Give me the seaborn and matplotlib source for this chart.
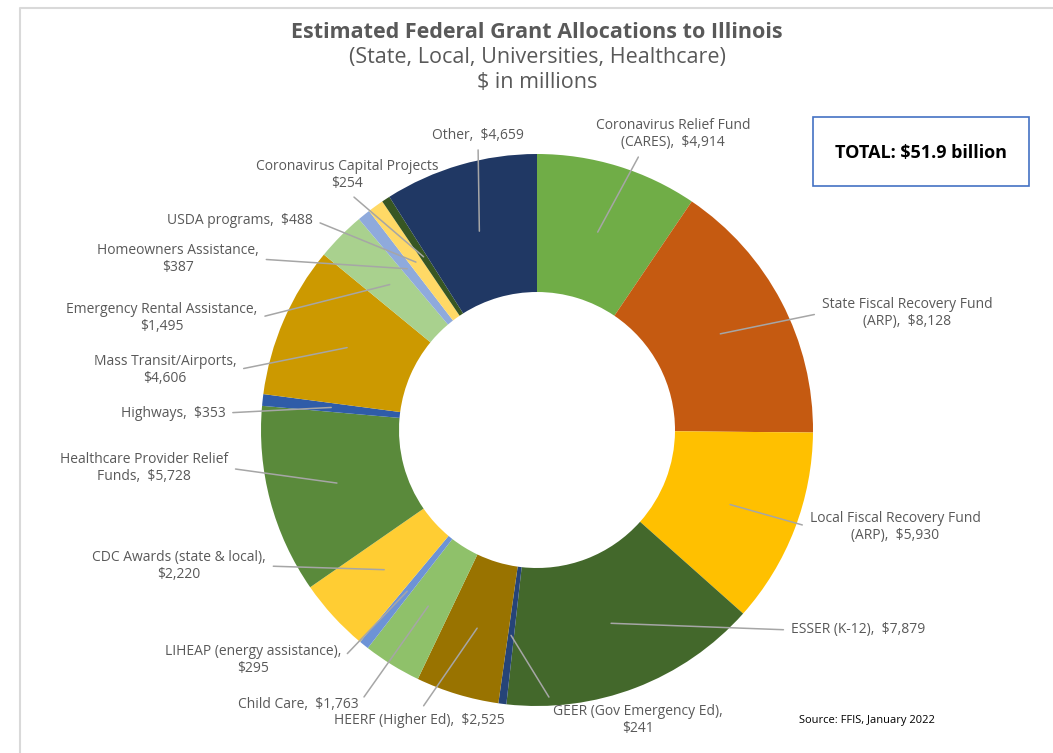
import matplotlib
matplotlib.use("Agg")
import numpy as np
import matplotlib.pyplot as plt
from matplotlib.patches import Rectangle
import seaborn as sns

# data, clockwise from the top
names = ["Coronavirus Relief Fund\n(CARES)", "State Fiscal Recovery Fund\n(ARP)",
         "Local Fiscal Recovery Fund\n(ARP)", "ESSER (K-12)", "GEER (Gov Emergency Ed)",
         "HEERF (Higher Ed)", "Child Care", "LIHEAP (energy assistance)",
         "CDC Awards (state & local)", "Healthcare Provider Relief\nFunds", "Highways",
         "Mass Transit/Airports", "Emergency Rental Assistance", "Homeowners Assistance",
         "USDA programs", "Coronavirus Capital Projects", "Other"]
values = [4914, 8128, 5930, 7879, 241, 2525, 1763, 295, 2220, 5728, 353, 4606,
          1495, 387, 488, 254, 4659]
label_texts = ["Coronavirus Relief Fund\n(CARES),  $4,914",
               "State Fiscal Recovery Fund\n(ARP),  $8,128",
               "Local Fiscal Recovery Fund\n(ARP),  $5,930",
               "ESSER (K-12),  $7,879",
               "GEER (Gov Emergency Ed),\n$241",
               "HEERF (Higher Ed),  $2,525",
               "Child Care,  $1,763",
               "LIHEAP (energy assistance),\n$295",
               "CDC Awards (state & local),\n$2,220",
               "Healthcare Provider Relief\nFunds,  $5,728",
               "Highways,  $353",
               "Mass Transit/Airports,\n$4,606",
               "Emergency Rental Assistance,\n$1,495",
               "Homeowners Assistance,\n$387",
               "USDA programs,  $488",
               "Coronavirus Capital Projects\n$254",
               "Other,  $4,659"]
colors = ["#70AD47", "#C55A11", "#FFC000", "#43682B", "#264478", "#997300",
          "#8FC16A", "#6D93D6", "#FFCD33", "#5A8A3B", "#2F5CA8", "#CC9900",
          "#A9D18E", "#8FAADC", "#FFD966", "#375623", "#203864"]

# label centres (pixels from top-left) and where the leader leaves the text
label_pos = [(673, 134), (907, 313), (895, 527), (858, 630), (638, 720),
             (419, 720), (298, 705), (253, 660), (179, 566), (144, 468),
             (173, 413), (165, 370), (162, 318), (178, 259), (240, 220),
             (347, 175), (478, 135)]
leader_from = [(0.3, 0), (0, 0.5), (0, 0.5), (0, 0.5), (0, 1),
               (0.5, 1), (1, 0.5), (1, 0.5), (1, 0.5), (1, 0.5),
               (1, 0.5), (1, 0.5), (1, 0.5), (1, 0.5), (1, 0.5),
               (0.5, 0), (0.5, 0)]

W, H = 1053, 753
sns.set_theme(style="white")
plt.rcParams["font.family"] = ["Open Sans", "DejaVu Sans"]

fig = plt.figure(figsize=(W / 100, H / 100), dpi=100)
ax = fig.add_axes([0, 0, 1, 1])

cx, cy, R = 537, H - 430, 276
wedges, _ = ax.pie(values, colors=colors, startangle=90, counterclock=False,
                   center=(cx, cy), radius=R, frame=True,
                   wedgeprops=dict(width=R * 0.5, linewidth=0))
ax.set_xlim(0, W)
ax.set_ylim(0, H)
ax.set_axis_off()

gray = "#595959"
for w, txt, (px, py), rp in zip(wedges, label_texts, label_pos, leader_from):
    mid = np.deg2rad((w.theta1 + w.theta2) / 2)
    tx, ty = cx + 0.75 * R * np.cos(mid), cy + 0.75 * R * np.sin(mid)
    ax.annotate(txt, xy=(tx, ty), xytext=(px, H - py), ha="center", va="center",
                fontsize=10, color=gray, linespacing=1.2,
                arrowprops=dict(arrowstyle="-", color="#A6A6A6", lw=1.1,
                                relpos=rp, shrinkA=3, shrinkB=0))

fig.text(537 / W, 1 - 32 / H, "Estimated Federal Grant Allocations to Illinois",
         ha="center", va="center", fontsize=15.5, fontweight="bold", color=gray)
fig.text(537 / W, 1 - 57 / H, "(State, Local, Universities, Healthcare)",
         ha="center", va="center", fontsize=15.5, color=gray)
fig.text(537 / W, 1 - 82 / H, "$ in millions",
         ha="center", va="center", fontsize=15.5, color=gray)

# total box
fig.patches.append(Rectangle((813 / W, 1 - 186 / H), 216 / W, 69 / H,
                             transform=fig.transFigure, fill=False,
                             edgecolor="#4472C4", lw=1.2))
fig.text(921 / W, 1 - 153 / H, "TOTAL: $51.9 billion", ha="center", va="center",
         fontsize=13, fontweight="bold", color="black")

fig.text(867 / W, 1 - 720 / H, "Source: FFIS, January 2022", ha="center",
         va="center", fontsize=8, color="black")

# chart area border (top and left edges)
fig.add_artist(plt.Line2D([20 / W, 20 / W, 1.0], [0.0, 1 - 8 / H, 1 - 8 / H],
                          transform=fig.transFigure, color="#D9D9D9", lw=1.5))

fig.savefig("out.png", dpi=100)
